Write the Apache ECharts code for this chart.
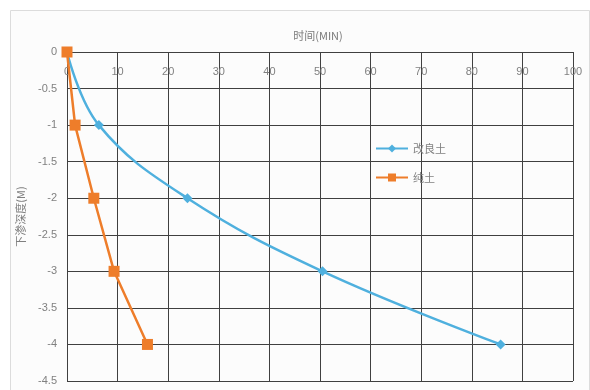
<!DOCTYPE html>
<html>
<head>
<meta charset="utf-8">
<script src="https://cdn.jsdelivr.net/npm/echarts@6/dist/echarts.min.js"></script>
<style>
  html, body { margin: 0; padding: 0; background: #ffffff; }
  #chart { width: 590px; height: 390px; }
</style>
</head>
<body>
<div id="chart"></div>
<script>
// Infiltration depth over time for two soil types
const seriesNames = ['改良土', '纯土'];
const improvedTime = [0, 6.3, 23.8, 50.5, 85.7];
const improvedDepth = [0, -1, -2, -3, -4];
const plainTime = [0, 1.6, 5.3, 9.3, 15.9];
const plainDepth = [0, -1, -2, -3, -4];
const xTitle = '时间(MIN)';
const yTitle = '下渗深度(M)';

const pairs = (xs, ys) => xs.map((x, i) => [x, ys[i]]);

const chart = echarts.init(document.getElementById('chart'));
const labelStyle = { color: '#808080', fontSize: 11, fontFamily: 'Liberation Sans, Arial, sans-serif' };
const gridColor = '#404040';

chart.setOption({
  animation: false,
  backgroundColor: '#ffffff',
  graphic: [{
    type: 'rect',
    left: 10, top: 10,
    shape: { width: 579, height: 390 },
    style: { fill: '#fcfcfc', stroke: '#dcdcdc', lineWidth: 1 },
    z: -10
  }],
  title: {
    text: xTitle,
    left: 313, top: 25,
    textAlign: 'center',
    textStyle: { color: '#7a7a7a', fontSize: 11, fontWeight: 'normal', fontFamily: 'Noto Sans CJK SC, sans-serif' }
  },
  legend: {
    orient: 'vertical',
    left: 370, top: 138,
    itemWidth: 32, itemHeight: 10,
    itemGap: 18,
    textStyle: { color: '#808080', fontSize: 11, fontFamily: 'Noto Sans CJK SC, sans-serif' },
    data: seriesNames
  },
  grid: { left: 67, right: 17, top: 52, bottom: 9 },
  xAxis: {
    type: 'value',
    position: 'top',
    min: 0, max: 100, interval: 10,
    axisLine: { show: true, lineStyle: { color: gridColor, width: 1 } },
    axisTick: { show: false },
    axisLabel: Object.assign({ inside: true, margin: 14 }, labelStyle),
    splitLine: { show: true, lineStyle: { color: gridColor, width: 1 } }
  },
  yAxis: {
    type: 'value',
    min: -4.5, max: 0, interval: 0.5,
    name: yTitle,
    nameLocation: 'middle',
    nameRotate: 90,
    nameGap: 41,
    nameTextStyle: { color: '#808080', fontSize: 11, fontFamily: 'Noto Sans CJK SC, sans-serif' },
    axisLine: { show: true, lineStyle: { color: gridColor, width: 1 } },
    axisTick: { show: false },
    axisLabel: Object.assign({ margin: 10 }, labelStyle),
    splitLine: { show: true, lineStyle: { color: gridColor, width: 1 } }
  },
  series: [
    {
      name: seriesNames[0],
      type: 'line',
      smooth: 0.4,
      data: pairs(improvedTime, improvedDepth),
      symbol: 'diamond',
      symbolSize: 10,
      lineStyle: { color: '#4fb0de', width: 2.5 },
      itemStyle: { color: '#4fb0de' },
      z: 3
    },
    {
      name: seriesNames[1],
      type: 'line',
      data: pairs(plainTime, plainDepth),
      symbol: 'rect',
      symbolSize: 11,
      lineStyle: { color: '#ee7d2a', width: 2.5 },
      itemStyle: { color: '#ee7d2a' },
      z: 4
    }
  ]
});
</script>
</body>
</html>
